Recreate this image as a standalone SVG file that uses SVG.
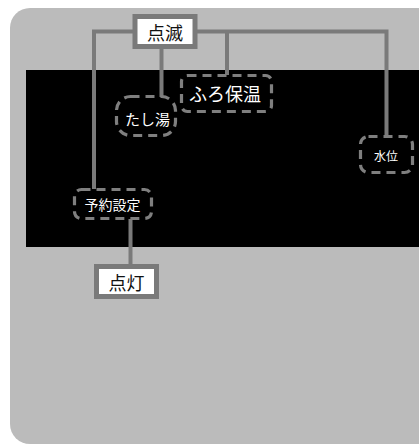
<svg xmlns="http://www.w3.org/2000/svg" width="419" height="445" viewBox="0 0 419 445">
<style>
.panel{fill:#bbbbbb}
.screen{fill:#000000}
.conn{fill:none;stroke:#7a7a7a;stroke-width:4}
.label{fill:#ffffff;stroke:#7a7a7a;stroke-width:5}
.dash{fill:none;stroke:#7f7f7f;stroke-width:3.2;stroke-dasharray:9 6}
.t{font-family:"Noto Sans CJK JP","Noto Sans",sans-serif;text-anchor:middle;dominant-baseline:central}
.tb{fill:#111111;font-size:18px}
.tw{fill:#ffffff}
</style>
<rect class="panel" x="10" y="8" width="440" height="436" rx="20"/>
<rect class="screen" x="26" y="70" width="400" height="177"/>
<g id="connectors">
<path class="conn" d="M94 189 V31.5 H135"/>
<path class="conn" d="M195 31.5 H386.5 V136"/>
<path class="conn" d="M227 31.5 V75"/>
<path class="conn" d="M161.5 46 V97"/>
<path class="conn" d="M130.5 219 V266"/>
</g>
<g id="tenmetsu">
<rect class="label" x="135" y="16.5" width="60" height="30"/>
<text class="t tb" x="165" y="31.5">点滅</text>
</g>
<g id="tento">
<rect class="label" x="96.5" y="266.5" width="60" height="30"/>
<text class="t tb" x="126.5" y="281.5">点灯</text>
</g>
<g id="furohoon">
<rect class="dash" x="181.5" y="75.5" width="90" height="36" rx="6"/>
<text class="t tw" x="225" y="93" font-size="18">ふろ保温</text>
</g>
<g id="tashiyu">
<rect class="dash" x="116.5" y="96.5" width="59" height="39" rx="14"/>
<text class="t tw" x="147.5" y="118" font-size="15">たし湯</text>
</g>
<g id="suii">
<rect class="dash" x="360.5" y="136.5" width="52" height="36" rx="8"/>
<text class="t tw" x="386" y="155" font-size="12">水位</text>
</g>
<g id="yoyaku">
<rect class="dash" x="74.5" y="189.5" width="77" height="29" rx="7"/>
<text class="t tw" x="112.5" y="203.5" font-size="14">予約設定</text>
</g>
</svg>
